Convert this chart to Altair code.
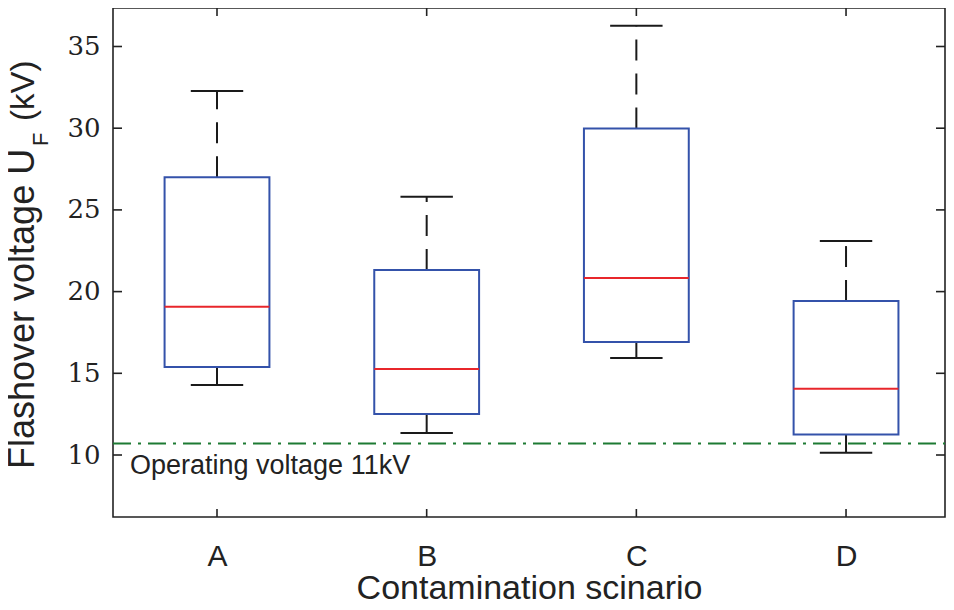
import altair as alt
import pandas as pd

# ---- data ----
categories = ["A", "B", "C", "D"]
positions = [1, 2, 3, 4]
whisker_low = [14.28, 11.34, 15.94, 10.14]
q1 = [15.38, 12.51, 16.92, 11.25]
median = [19.08, 15.26, 20.83, 14.05]
q3 = [27.0, 21.32, 29.98, 19.42]
whisker_high = [32.28, 25.81, 36.27, 23.1]
operating_voltage = [10.7]
operating_label = ["Operating voltage 11kV"]
y_tick_values = [10, 15, 20, 25, 30, 35]
y_title_parts = ["Flashover voltage U", "F", "(kV)"]
x_title = "Contamination scinario"

W, H = 832, 509
INK = "#222222"

df = pd.DataFrame({"cat": categories, "pos": positions, "lo": whisker_low,
                   "q1": q1, "med": median, "q3": q3, "hi": whisker_high})

xs = alt.Scale(domain=[0.504, 4.472], nice=False, zero=False)
ys = alt.Scale(domain=[6.206, 37.356], nice=False, zero=False)

label_expr = "[" + ",".join("'%s'" % c for c in categories) + "][datum.value-1]"
xaxis = alt.Axis(values=positions, labelExpr=label_expr, ticks=False, tickSize=0,
                 domain=False, grid=False, labelFont="Liberation Sans",
                 labelFontSize=30, labelColor=INK, labelPadding=24,
                 title=x_title, titleFont="Liberation Sans", titleFontSize=34,
                 titleFontWeight="normal", titleColor=INK, titleY=81,
                 titleBaseline="alphabetic")
yaxis = alt.Axis(values=y_tick_values, ticks=False, tickSize=0, domain=False,
                 grid=False, labelFont="DejaVu Serif", labelFontSize=26,
                 labelColor=INK, labelPadding=13, title="")


def X(f):
    return alt.X(f + ":Q", scale=xs, axis=xaxis)


def Y(f):
    return alt.Y(f + ":Q", scale=ys, axis=yaxis)


base = alt.Chart(df).transform_calculate(
    xl="datum.pos-0.25", xr="datum.pos+0.25",
    cl="datum.pos-0.125", cr="datum.pos+0.125")

whisk = dict(color="#1a1a1a", strokeWidth=2, strokeDash=[21, 13])
upper = base.mark_rule(**whisk).encode(x=X("pos"), y=Y("q3"), y2="hi:Q")
lower = base.mark_rule(**whisk).encode(x=X("pos"), y=Y("q1"), y2="lo:Q")
cap_hi = base.mark_rule(color="#1a1a1a", strokeWidth=2).encode(x=X("cl"), x2="cr:Q", y=Y("hi"))
cap_lo = base.mark_rule(color="#1a1a1a", strokeWidth=2).encode(x=X("cl"), x2="cr:Q", y=Y("lo"))
box = base.mark_rect(fill="white", fillOpacity=0, stroke="#3452aa", strokeWidth=2).encode(
    x=X("xl"), x2="xr:Q", y=Y("q1"), y2="q3:Q")
med = base.mark_rule(color="#e8262b", strokeWidth=2).encode(x=X("xl"), x2="xr:Q", y=Y("med"))

op_df = pd.DataFrame({"v": operating_voltage, "label": operating_label})
op_line = alt.Chart(op_df).mark_rule(color="#1d7a33", strokeWidth=2,
                                     strokeDash=[18, 7, 3, 7]).encode(
    x=alt.value(0), x2=alt.value(W), y=Y("v"))
op_text = alt.Chart(op_df).mark_text(align="left", baseline="alphabetic",
                                     font="Liberation Sans", fontSize=27,
                                     color=INK, dy=30).encode(
    x=alt.value(17), y=Y("v"), text="label:N")

yt = pd.DataFrame({"v": y_tick_values})
xt = pd.DataFrame({"p": positions})
tk = dict(color=INK, strokeWidth=1.6)
left_ticks = alt.Chart(yt).mark_rule(**tk).encode(y=Y("v"), x=alt.value(0), x2=alt.value(9))
right_ticks = alt.Chart(yt).mark_rule(**tk).encode(y=Y("v"), x=alt.value(W - 9), x2=alt.value(W))
bottom_ticks = alt.Chart(xt).mark_rule(**tk).encode(x=X("p"), y=alt.value(H - 8), y2=alt.value(H))
top_ticks = alt.Chart(xt).mark_rule(**tk).encode(x=X("p"), y=alt.value(0), y2=alt.value(8))

one = pd.DataFrame({"k": [0]})
ttl = dict(angle=270, align="left", baseline="alphabetic", font="Liberation Sans", color=INK)
yt1 = alt.Chart(one).mark_text(fontSize=36, **ttl).encode(
    x=alt.value(-79), y=alt.value(461), text=alt.value(y_title_parts[0]))
yt2 = alt.Chart(one).mark_text(fontSize=22, **ttl).encode(
    x=alt.value(-65), y=alt.value(138), text=alt.value(y_title_parts[1]))
yt3 = alt.Chart(one).mark_text(fontSize=33, **ttl).encode(
    x=alt.value(-79), y=alt.value(113), text=alt.value(y_title_parts[2]))

chart = alt.layer(
    op_line, upper, lower, cap_hi, cap_lo, box, med, op_text,
    left_ticks, right_ticks, bottom_ticks, top_ticks, yt1, yt2, yt3
).properties(
    width=W, height=H,
    autosize=alt.AutoSizeParams(type="none"),
    padding={"left": 105, "top": 0, "right": 1, "bottom": 84},
).configure(background="white").configure_view(stroke=INK, strokeWidth=1.6)

chart.save("out.html", embed_options={"renderer": "svg", "actions": False})
